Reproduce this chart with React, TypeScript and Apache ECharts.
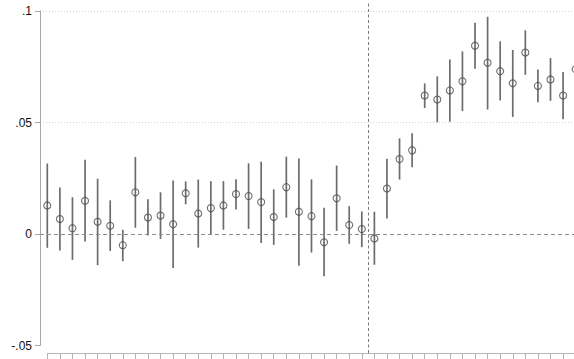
import React, { useEffect, useRef } from "react";
import * as echarts from "echarts";

// ---- data ----
const periods = [0, 1, 2, 3, 4, 5, 6, 7, 8, 9, 10, 11, 12, 13, 14, 15, 16, 17, 18, 19, 20, 21, 22, 23, 24, 25, 26, 27, 28, 29, 30, 31, 32, 33, 34, 35, 36, 37, 38, 39, 40, 41, 42];
const estimates = [0.0128, 0.0067, 0.0026, 0.0149, 0.0055, 0.0037, -0.0050, 0.0187, 0.0074, 0.0083, 0.0044, 0.0183, 0.0092, 0.0116, 0.0128, 0.0179, 0.0170, 0.0143, 0.0076, 0.0210, 0.0100, 0.0080, -0.0037, 0.0160, 0.0040, 0.0022, -0.0020, 0.0204, 0.0336, 0.0375, 0.0621, 0.0603, 0.0644, 0.0685, 0.0844, 0.0768, 0.0730, 0.0676, 0.0814, 0.0664, 0.0693, 0.0621, 0.0739];
const upper = [0.0316, 0.0208, 0.0165, 0.0333, 0.0248, 0.0151, 0.0019, 0.0345, 0.0156, 0.0187, 0.0240, 0.0236, 0.0244, 0.0237, 0.0237, 0.0246, 0.0317, 0.0324, 0.0200, 0.0347, 0.0339, 0.0245, 0.0118, 0.0307, 0.0125, 0.0101, 0.0100, 0.0338, 0.0429, 0.0452, 0.0675, 0.0707, 0.0783, 0.0819, 0.0947, 0.0974, 0.0864, 0.0825, 0.0913, 0.0738, 0.0789, 0.0727, 0.0850];
const lower = [-0.0062, -0.0074, -0.0116, -0.0034, -0.0140, -0.0076, -0.0122, 0.0028, -0.0007, -0.0022, -0.0152, 0.0133, -0.0061, -0.0002, 0.0019, 0.0110, 0.0023, -0.0040, -0.0049, 0.0073, -0.0142, -0.0083, -0.0190, 0.0014, -0.0044, -0.0059, -0.0138, 0.0070, 0.0244, 0.0299, 0.0565, 0.0501, 0.0503, 0.0551, 0.0741, 0.0558, 0.0599, 0.0525, 0.0714, 0.0591, 0.0597, 0.0515, 0.0630];
const eventLine = 25.5;
const yTickValues = [-0.05, 0, 0.05, 0.1];
const yTickLabels = ["-.05", "0", ".05", ".1"];

// ---- layout ----
const W = 574;
const H = 359;
const AXIS_X = 40; // y-axis line
const X0 = 47.3; // pixel of first period
const DX = 12.58; // pixels per period
const Y_TOP = 11; // pixel of .1
const Y_BOT = 345.5; // pixel of -.05
const X_AXIS_Y = 353; // pixel of x-axis line
const PLOT_TOP = 3;

const FONT = "'Liberation Sans', Arial, Helvetica, sans-serif";

export default function App() {
  const ref = useRef<HTMLDivElement>(null);

  useEffect(() => {
    if (!ref.current) return;
    const chart = echarts.init(ref.current, undefined, { renderer: "svg" });

    const yMin = yTickValues[0];
    const yMax = yTickValues[yTickValues.length - 1];
    const pxPerUnit = (Y_BOT - Y_TOP) / (yMax - yMin);
    const yHi = yMax + (Y_TOP - PLOT_TOP) / pxPerUnit;
    const yLo = yMin - (X_AXIS_Y - Y_BOT) / pxPerUnit;
    const xLo = -(X0 - AXIS_X) / DX;
    const xHi = (W - X0) / DX;

    const barData = periods.map((p, i) => [p, lower[i], upper[i]]);
    const pointData = periods.map((p, i) => [p, estimates[i]]);

    const hiddenAxis = {
      show: false,
    };

    chart.setOption({
      animation: false,
      backgroundColor: "#ffffff",
      grid: [
        { left: AXIS_X, right: 0, top: PLOT_TOP, bottom: H - X_AXIS_Y, containLabel: false, outerBoundsMode: "none" },
        { left: AXIS_X, right: 0, top: Y_TOP, bottom: H - Y_BOT, containLabel: false, outerBoundsMode: "none" },
        { left: X0, right: 0, top: X_AXIS_Y - 10, bottom: H - X_AXIS_Y, containLabel: false, outerBoundsMode: "none" },
      ],
      xAxis: [
        { type: "value", gridIndex: 0, min: xLo, max: xHi, ...hiddenAxis },
        { type: "value", gridIndex: 1, min: 0, max: 1, ...hiddenAxis },
        {
          type: "value",
          gridIndex: 2,
          position: "bottom",
          min: 0,
          max: xHi,
          axisLine: { show: true, lineStyle: { color: "#b4b4b4", width: 1 } },
          axisTick: {
            show: true,
            length: 6,
            lineStyle: { color: "#b4b4b4", width: 1 },
            customValues: periods.filter((p) => p <= xHi),
          },
          axisLabel: { show: false },
          splitLine: { show: false },
        },
      ],
      yAxis: [
        { type: "value", gridIndex: 0, min: yLo, max: yHi, ...hiddenAxis },
        {
          type: "value",
          gridIndex: 1,
          min: yMin,
          max: yMax,
          interval: 0.05,
          axisLine: { show: true, lineStyle: { color: "#a8a8a8", width: 1 } },
          axisTick: { show: true, length: 5, lineStyle: { color: "#a8a8a8", width: 1 } },
          axisLabel: {
            show: true,
            margin: 8,
            color: "#111111",
            fontSize: 12,
            fontFamily: FONT,
            formatter: (v: number) => {
              let best = 0;
              for (let i = 0; i < yTickValues.length; i++) {
                if (Math.abs(yTickValues[i] - v) < Math.abs(yTickValues[best] - v)) best = i;
              }
              return yTickLabels[best];
            },
          },
          splitLine: {
            show: true,
            lineStyle: {
              color: ["rgba(0,0,0,0)", "rgba(0,0,0,0)", "#d2d2d2", "#d2d2d2"],
              type: [1, 2],
              width: 1,
            },
          },
        },
        { type: "value", gridIndex: 2, min: 0, max: 1, ...hiddenAxis },
      ],
      series: [
        {
          type: "custom",
          xAxisIndex: 0,
          yAxisIndex: 0,
          data: barData,
          encode: { x: 0, y: [1, 2] },
          silent: true,
          clip: false,
          renderItem: (_params: any, api: any) => {
            const x = api.value(0);
            const p1 = api.coord([x, api.value(1)]);
            const p2 = api.coord([x, api.value(2)]);
            return {
              type: "line",
              shape: { x1: p1[0], y1: p1[1], x2: p2[0], y2: p2[1] },
              style: { stroke: "#6c6c6c", lineWidth: 1.7 },
            };
          },
          markLine: {
            silent: true,
            symbol: ["none", "none"],
            label: { show: false },
            data: [
              { yAxis: 0, lineStyle: { color: "#8c8c8c", type: [4, 3], width: 1 } },
              { xAxis: eventLine, lineStyle: { color: "#7a7a7a", type: [3, 2.5], width: 1 } },
            ],
          },
        },
        {
          type: "scatter",
          xAxisIndex: 0,
          yAxisIndex: 0,
          data: pointData,
          symbol: "circle",
          symbolSize: 7,
          silent: true,
          clip: false,
          itemStyle: { color: "rgba(0,0,0,0)", borderColor: "#4a4a4a", borderWidth: 1.1 },
        },
      ],
    });

    return () => chart.dispose();
  }, []);

  return (
    <div
      ref={ref}
      style={{ position: "fixed", left: 0, top: 0, width: W, height: H, background: "#fff" }}
    />
  );
}
